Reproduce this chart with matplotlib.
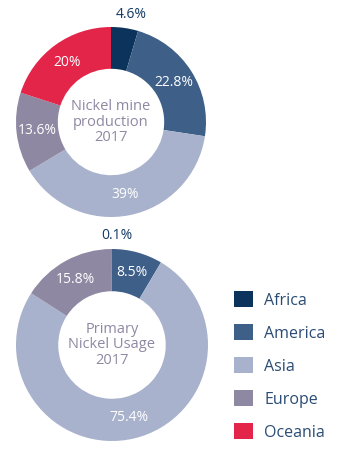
import numpy as np
import matplotlib
matplotlib.use('Agg')
import matplotlib.pyplot as plt
from matplotlib.patches import Patch

plt.rcParams['font.family'] = ['Open Sans', 'DejaVu Sans']

regions = ['Africa', 'America', 'Asia', 'Europe', 'Oceania']
colors = ['#0b335c', '#3e5f88', '#a8b2cc', '#8f88a3', '#e4254a']

mine_2017 = [4.6, 22.8, 39, 13.6, 20]
mine_labels = ['4.6%', '22.8%', '39%', '13.6%', '20%']
usage_2017 = [0, 8.5, 75.4, 15.8, 0.1]
usage_labels = ['', '8.5%', '75.4%', '15.8%', '0.1%']

W, H = 343, 449
fig = plt.figure(figsize=(W / 100, H / 100), dpi=100)


def donut(cx, cy, r, values, labels, title, outside):
    ax = fig.add_axes([(cx - r) / W, 1 - (cy + r) / H, 2 * r / W, 2 * r / H])
    ax.pie(values, colors=colors, startangle=90, counterclock=False,
           radius=1, wedgeprops=dict(width=0.44, linewidth=0))
    ax.set_xlim(-1, 1)
    ax.set_ylim(-1, 1)
    ax.set_aspect('equal')
    ax.axis('off')
    total = sum(values)
    ends = np.cumsum(values)
    for v, end, lab, name in zip(values, ends, labels, regions):
        if not lab:
            continue
        mid = np.deg2rad(90 - (end - v / 2) / total * 360)
        if name in outside:
            x, y = 1.14 * np.cos(mid), 1.14 * np.sin(mid)
            ax.text(x + 0.05, y, lab, color='#123a63', ha='center',
                    va='center', fontsize=10, clip_on=False)
        else:
            ax.text(0.78 * np.cos(mid), 0.78 * np.sin(mid), lab,
                    color='white', ha='center', va='center', fontsize=10)
    ax.text(0, 0, title, ha='center', va='center', fontsize=10.5,
            color='#8f88a3', linespacing=1.08)


donut(111, 122, 95, mine_2017, mine_labels,
      'Nickel mine\nproduction\n2017', ['Africa'])
donut(112, 345, 96, usage_2017, usage_labels,
      'Primary\nNickel Usage\n2017', ['Oceania'])

handles = [Patch(facecolor=c, edgecolor='none') for c in colors]
leg = fig.legend(handles, regions, loc='upper left',
                 bbox_to_anchor=(234 / W, 1 - 291 / H), frameon=False,
                 fontsize=11.5, handlelength=1.19, handleheight=1.19,
                 handletextpad=0.7, labelspacing=0.97,
                 borderpad=0, borderaxespad=0)
for t in leg.get_texts():
    t.set_color('#2a4c74')

fig.savefig('out.png', dpi=100, facecolor='white')
